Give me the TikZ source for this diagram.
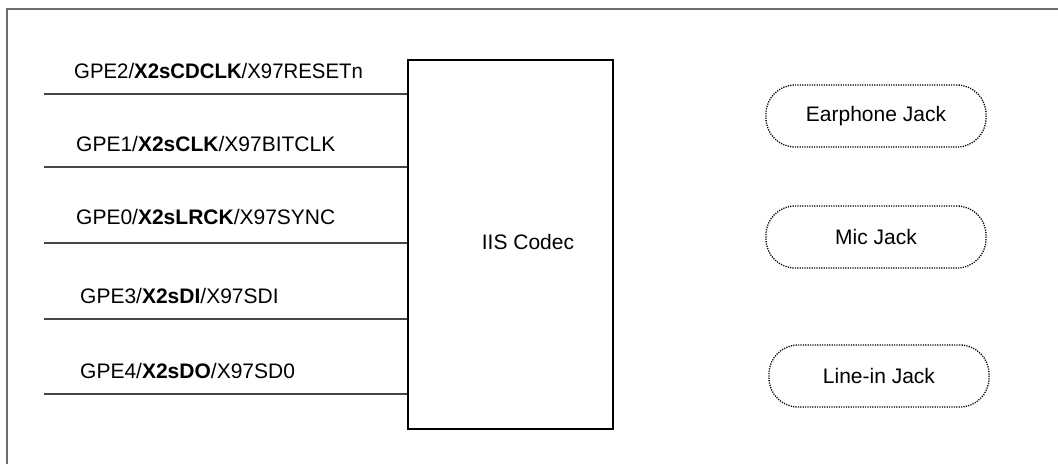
\documentclass[tikz,border=0pt]{standalone}
\usepackage{fontspec}
\setmainfont{Liberation Sans}
\begin{document}
\begin{tikzpicture}[x=1pt,y=-1pt,
  every node/.style={font=\fontsize{21}{25}\selectfont, inner sep=0pt},
  framecol/.style={draw={rgb,255:red,110;green,110;blue,110}, line width=1.6pt},
  sigline/.style={draw={rgb,255:red,70;green,70;blue,70}, line width=1.5pt},
  codecbox/.style={draw=black, line width=1.5pt, rectangle, minimum width=205pt, minimum height=369pt, anchor=north west},
  jack/.style={draw=black, line width=1.3pt, dash pattern=on 1.2pt off 1.2pt, rounded corners=29pt, minimum width=220pt, minimum height=62pt},
  lbl/.style={anchor=base west}]
\useasboundingbox (0,0) rectangle (1058,464);
\draw[framecol] (7,464) -- (7,9) -- (1058,9);

\node[codecbox] (codec) at (407,59) {};
\node (codectext) at (528,242) {IIS Codec};

\coordinate (s1) at (44,94);
\coordinate (s2) at (44,167);
\coordinate (s3) at (44,243);
\coordinate (s4) at (44,319);
\coordinate (s5) at (44,394);
\draw[sigline] (s1) -- (s1 -| codec.west);
\draw[sigline] (s2) -- (s2 -| codec.west);
\draw[sigline] (s3) -- (s3 -| codec.west);
\draw[sigline] (s4) -- (s4 -| codec.west);
\draw[sigline] (s5) -- (s5 -| codec.west);

\node[lbl] (l1) at (74,78) {\scalebox{0.97}[1]{GPE2/\textbf{X2sCDCLK}/X97RESETn}};
\node[lbl] (l2) at (76,151) {GPE1/\textbf{X2sCLK}/X97BITCLK};
\node[lbl] (l3) at (76,224) {GPE0/\textbf{X2sLRCK}/X97SYNC};
\node[lbl] (l4) at (80,303) {GPE3/\textbf{X2sDI}/X97SDI};
\node[lbl] (l5) at (80,378) {GPE4/\textbf{X2sDO}/X97SD0};

\node[jack] (ear) at (876,116) {Earphone Jack};
\node[jack] (mic) at (876,237) {Mic Jack};
\node[jack] (line) at (879,376) {Line-in Jack};
\end{tikzpicture}
\end{document}
